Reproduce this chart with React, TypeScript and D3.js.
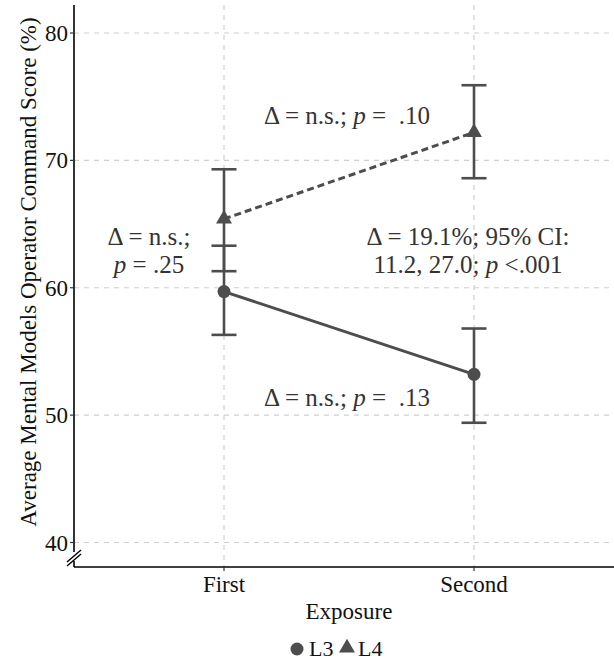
import React from "react";
import * as d3 from "d3";

const categories = ["First", "Second"];
const yTicks = [40, 50, 60, 70, 80];
const seriesL3 = [
  { exposure: "First", mean: 59.7, lo: 56.3, hi: 63.3 },
  { exposure: "Second", mean: 53.2, lo: 49.4, hi: 56.8 },
];
const seriesL4 = [
  { exposure: "First", mean: 65.4, lo: 61.3, hi: 69.3 },
  { exposure: "Second", mean: 72.2, lo: 68.6, hi: 75.9 },
];
const legendLabels = ["L3", "L4"];

const W = 614;
const H = 662;
const PL = 74;
const PR = 624;
const PT = 5;
const PB = 567;
const FONT = "'Liberation Serif', 'Times New Roman', serif";
const LINE = "#4d4d4d";
const GRID = "#cfcfcf";

export default function App() {
  const x = d3.scalePoint<string>().domain(categories).range([PL, PR]).padding(0.6);
  const y = d3.scaleLinear().domain([40, 80]).range([542.5, 33]);
  const line = d3
    .line<{ exposure: string; mean: number }>()
    .x((d) => x(d.exposure) as number)
    .y((d) => y(d.mean));
  const tri = d3.symbol().type(d3.symbolTriangle).size(110)();
  const cap = 12.5;

  const errBars = (data: typeof seriesL3, key: string) =>
    data.map((d) => {
      const cx = x(d.exposure) as number;
      return (
        <g key={key + d.exposure} stroke={LINE} strokeWidth={2.6}>
          <line x1={cx} x2={cx} y1={y(d.lo)} y2={y(d.hi)} />
          <line x1={cx - cap} x2={cx + cap} y1={y(d.lo)} y2={y(d.lo)} />
          <line x1={cx - cap} x2={cx + cap} y1={y(d.hi)} y2={y(d.hi)} />
        </g>
      );
    });

  return (
    <svg width={W} height={H} style={{ position: "absolute", left: 0, top: 0, background: "#fff" }} fontFamily={FONT}>
      {/* grid */}
      {yTicks.map((t) => (
        <line key={"gy" + t} x1={PL} x2={W} y1={y(t)} y2={y(t)} stroke={GRID} strokeWidth={1.2} strokeDasharray="5,5" />
      ))}
      {categories.map((c) => (
        <line key={"gx" + c} x1={x(c)} x2={x(c)} y1={PT} y2={PB} stroke={GRID} strokeWidth={1.2} strokeDasharray="5,5" />
      ))}
      {/* axes */}
      <line x1={PL} x2={PL} y1={PT} y2={552} stroke="#000" strokeWidth={1.6} />
      <line x1={PL} x2={PL} y1={561} y2={PB} stroke="#000" strokeWidth={1.6} />
      <line x1={PL} x2={W} y1={PB} y2={PB} stroke="#000" strokeWidth={1.6} />
      <line x1={67} y1={562} x2={81} y2={550} stroke="#000" strokeWidth={1.4} />
      <line x1={67} y1={566} x2={81} y2={554} stroke="#000" strokeWidth={1.4} />
      {yTicks.map((t) => (
        <g key={"ty" + t}>
          <line x1={PL - 4} x2={PL} y1={y(t)} y2={y(t)} stroke="#333" strokeWidth={1.2} />
          <text x={PL - 6} y={y(t)} dy="0.35em" textAnchor="end" fontSize={23} fill="#111">
            {t}
          </text>
        </g>
      ))}
      {categories.map((c) => (
        <g key={"tx" + c}>
          <line x1={x(c)} x2={x(c)} y1={PB} y2={PB + 4} stroke="#333" strokeWidth={1.2} />
          <text x={x(c)} y={592} textAnchor="middle" fontSize={23} fill="#111">
            {c}
          </text>
        </g>
      ))}
      <text x={(PL + PR) / 2} y={619} textAnchor="middle" fontSize={23} fill="#111">
        Exposure
      </text>
      <text
        transform={`translate(36,${(PT + PB) / 2 - 14}) rotate(-90)`}
        textAnchor="middle"
        fontSize={23}
        fill="#111"
      >
        Average Mental Models Operator Command Score (%)
      </text>
      {/* lines */}
      <path d={line(seriesL3) || ""} fill="none" stroke={LINE} strokeWidth={3} />
      <path d={line(seriesL4) || ""} fill="none" stroke={LINE} strokeWidth={3} strokeDasharray="7,4" />
      {errBars(seriesL3, "a")}
      {errBars(seriesL4, "b")}
      {seriesL3.map((d) => (
        <circle key={"p3" + d.exposure} cx={x(d.exposure)} cy={y(d.mean)} r={6.5} fill={LINE} />
      ))}
      {seriesL4.map((d) => (
        <path key={"p4" + d.exposure} d={tri || ""} transform={`translate(${x(d.exposure)},${y(d.mean)})`} fill={LINE} />
      ))}
      {/* annotations */}
      <g fontSize={25} fill="#333" textAnchor="middle" style={{ whiteSpace: "pre" }}>
        <text x={347} y={124} xmlSpace="preserve">
          Δ = n.s.; <tspan fontStyle="italic">p</tspan> =  .10
        </text>
        <text x={347} y={406} xmlSpace="preserve">
          Δ = n.s.; <tspan fontStyle="italic">p</tspan> =  .13
        </text>
        <text x={149} y={245}>Δ = n.s.;</text>
        <text x={149} y={273} xmlSpace="preserve">
          <tspan fontStyle="italic">p</tspan> = .25
        </text>
        <text x={468} y={245}>Δ = 19.1%; 95% CI:</text>
        <text x={468} y={273} xmlSpace="preserve">
          11.2, 27.0; <tspan fontStyle="italic">p</tspan> {"<"}.001
        </text>
      </g>
      {/* legend */}
      <g fontSize={22} fill="#111">
        <circle cx={297} cy={649} r={6.5} fill={LINE} />
        <text x={309} y={656}>{legendLabels[0]}</text>
        <path d={tri || ""} transform={`translate(347,648)`} fill={LINE} />
        <text x={358} y={656}>{legendLabels[1]}</text>
      </g>
    </svg>
  );
}
